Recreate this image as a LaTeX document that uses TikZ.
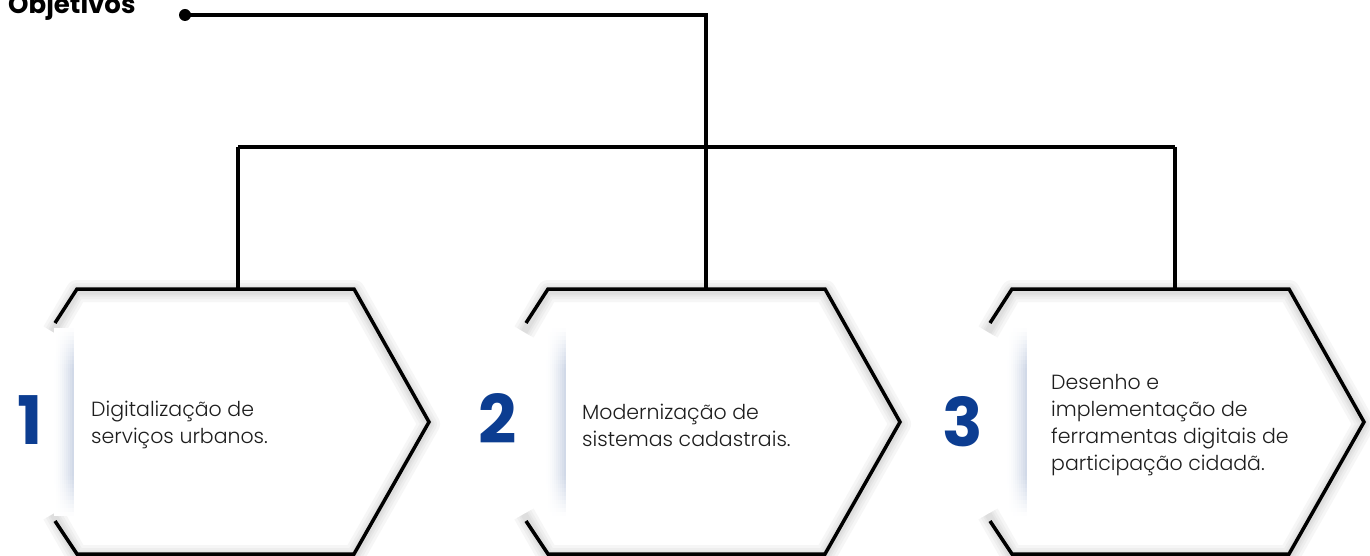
\documentclass[tikz,border=0pt]{standalone}
\usepackage{fontspec}
\setmainfont{Poppins}
\newfontfamily\bodyfont{Poppins Light}
\newfontfamily\numfont{Poppins}[UprightFont={* Bold}]
\definecolor{numblue}{RGB}{12,61,145}
\definecolor{txtgray}{RGB}{30,30,30}
\definecolor{stripcol}{RGB}{205,214,230}
\definecolor{glowcol}{RGB}{90,90,90}
\begin{document}
\begin{tikzpicture}[x=1pt,y=-1pt,
  hexedge/.style={line width=3.5pt, line join=miter, draw=black},
  glow/.style={line join=round, draw=glowcol, draw opacity=0.05},
  conn/.style={line width=3.5pt, draw=black},
  num/.style={font=\numfont\fontsize{67}{67}\selectfont, text=numblue, inner sep=0pt},
  body/.style={font=\bodyfont\fontsize{20.5}{27}\selectfont, align=left, anchor=west, text=txtgray, inner sep=0pt},
  title/.style={font=\bfseries\fontsize{26}{26}\selectfont, text=black, inner sep=0pt, anchor=base west}
]
\useasboundingbox (0,0) rectangle (1370,556);
\fill[white] (0,0) rectangle (1370,556);
\clip (0,0) rectangle (1370,556);

% glow (soft shadow) around hexagon outlines
\foreach \dx in {0,471,935}{
  \foreach \w in {22,16,11,7}{
    \draw[glow, line width=\w pt] (53+\dx,332) -- (77+\dx,291) -- (354+\dx,291) -- (429+\dx,424) -- (354+\dx,556) -- (77+\dx,556) -- (53+\dx,514);
  }
}

% gradient strips at the left of each panel (drawn as a grid of cells)
\foreach \se in {74,566,1027}{
  \foreach \r in {0,...,46}{
    \pgfmathsetmacro\rf{min(1,(\r+0.5)/10,(46.5-\r)/10)}
    \foreach \j in {0,...,9}{
      \pgfmathsetmacro\p{100*\rf*((\j+0.5)/10)^1.5}
      \fill[stripcol!\p!white] (\se-20+\j*2,328+\r*4) rectangle (\se-18+\j*2+0.3,332+\r*4+0.3);
    }
  }
}

% coordinates
\coordinate (t1) at (238,289);
\coordinate (t2) at (706,289);
\coordinate (t3) at (1175,289);
\coordinate (b1) at (238,147);
\coordinate (b3) at (1175,147);
\node[circle, fill=black, inner sep=0pt, minimum size=12pt] (dot) at (185,15) {};

% connectors
\draw[conn] (dot.center) -| (t2);
\draw[conn] (b1) -- (b3);
\draw[conn] (b1) -- (t1);
\draw[conn] (b3) -- (t3);

% hexagon strokes
\foreach \dx in {0,471,935}{
  \draw[hexedge] (55+\dx,323) -- (77+\dx,289) -- (354+\dx,289) -- (429+\dx,422) -- (354+\dx,554) -- (77+\dx,554) -- (55+\dx,521);
}

% title
\node[title] (obj) at (8,14) {Objetivos};

% numbers
\node[num] (n1) at (30.5,420) {1};
\node[num] (n2) at (498,419) {2};
\node[num] (n3) at (963,422) {3};

% texts
\node[body] (d1) at (91,425) {Digitalização de\\serviços urbanos.};
\node[body] (d2) at (582,425) {Modernização de\\sistemas cadastrais.};
\node[body] (d3) at (1051,425) {Desenho e\\implementação de\\ferramentas digitais de\\participação cidadã.};
\end{tikzpicture}
\end{document}
